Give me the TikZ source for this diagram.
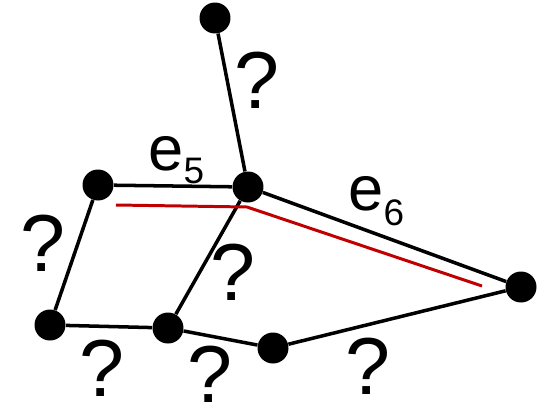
\documentclass[tikz,border=0pt]{standalone}
\usepackage{fontspec}
\setmainfont{Liberation Sans}
\usetikzlibrary{positioning, calc}

\definecolor{pathred}{RGB}{192,0,0}

\begin{document}
\begin{tikzpicture}[
    x=0.02cm, y=-0.02cm,
    dot/.style={circle, fill=black, minimum size=0.62cm, inner sep=0pt},
    edge/.style={line width=2pt, black},
    route/.style={line width=1.7pt, pathred},
    qmark/.style={font=\fontsize{46}{46}\selectfont, inner sep=0pt},
    elbl/.style={font=\fontsize{36}{36}\selectfont, inner sep=0pt, anchor=base west},
]
\useasboundingbox (0,0) rectangle (541,416);
% ------------------------------------------------ vertices
\node[dot] (top) at (215,18) {};
\node[dot] (ctr) at (248,187) {};
\node[dot] (ltop) at (98,185) {};
\node[dot] (lbot) at (50,325) {};
\node[dot] (mbot) at (168,328) {};
\node[dot] (bot) at (273,348) {};
\node[dot] (rgt) at (521,287) {};
% ------------------------------------------------ edges
\draw[edge] (top) -- (ctr);
\draw[edge] (ltop) -- (ctr);
\draw[edge] (ctr) -- (rgt);
\draw[edge] (ltop) -- (lbot);
\draw[edge] (lbot) -- (mbot);
\draw[edge] (mbot) -- (ctr);
\draw[edge] (mbot) -- (bot);
\draw[edge] (bot) -- (rgt);
% ------------------------------------------------ the red route
\coordinate (r1) at (116,205);
\coordinate (r2) at (247,207);
\coordinate (r3) at (482,286);
\draw[route] (r1) -- (r2) -- (r3);
% ------------------------------------------------ labels
\node[elbl] (e5) at (148,170) {e\raisebox{-0.27cm}{\fontsize{21}{21}\selectfont 5}};
\node[elbl] (e6) at (348,210) {e\raisebox{-0.3cm}{\fontsize{21}{21}\selectfont 6}};
\node[qmark] (q1) at (257,80) {?};
\node[qmark] (q2) at (43,243) {?};
\node[qmark] (q3) at (233,272) {?};
\node[qmark] (q4) at (102,368) {?};
\node[qmark] (q5) at (210,374) {?};
\node[qmark] (q6) at (368,366) {?};
\end{tikzpicture}
\end{document}
